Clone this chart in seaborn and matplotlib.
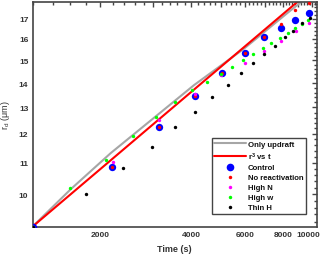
import matplotlib
matplotlib.use("Agg")
import matplotlib.pyplot as plt
import matplotlib.ticker as mticker
from matplotlib.lines import Line2D
from matplotlib.transforms import ScaledTranslation
import seaborn as sns
import numpy as np

# data (time in s, droplet radius in um)
updraft_t = [1200, 1600, 2170, 3170, 4080, 5940, 8460, 9190]
updraft_r = [9.06, 10.14, 11.32, 12.81, 13.91, 15.52, 17.43, 17.89]

r3_t = [1200, 9000]
r3_r = [9.06, 17.95]

control_t = [1200, 2190, 3130, 4100, 5050, 6010, 6950, 7890, 8800, 9760]
control_r = [9.06, 10.84, 12.27, 13.47, 14.43, 15.33, 16.08, 16.54, 16.96, 17.30]

noreact_t = [1200, 2190, 3130, 4100, 5050, 6010, 6950, 7890, 8800, 9760]
noreact_r = [9.06, 10.84, 12.27, 13.47, 14.43, 15.33, 16.08, 16.74, 17.46, 17.85]

highn_t = [1200, 2200, 3130, 4100, 5000, 6020, 6960, 7910, 8840, 9780]
highn_r = [9.06, 11.02, 12.52, 13.54, 14.34, 14.87, 15.41, 15.91, 16.37, 16.79]

highw_t = [1200, 1600, 2090, 2570, 3050, 3530, 4010, 4500, 4990, 5430,
           5930, 6400, 6860, 7330, 7800, 8320, 8760, 9240, 9710]
highw_r = [9.06, 10.17, 11.10, 11.91, 12.64, 13.23, 13.72, 14.05, 14.38, 14.70,
           15.00, 15.28, 15.55, 15.82, 16.06, 16.31, 16.54, 16.76, 16.96]

thinh_t = [1200, 1800, 2380, 2960, 3530, 4100, 4680, 5260, 5830, 6380,
           6960, 7530, 8100, 8670, 9240, 9810]
thinh_r = [9.06, 10.00, 10.81, 11.54, 12.24, 12.83, 13.41, 13.93, 14.42, 14.88,
           15.28, 15.67, 16.08, 16.40, 16.77, 17.04]

sns.set_style("white")
plt.rcParams['font.family'] = ['Liberation Sans', 'DejaVu Sans']
plt.rcParams['font.weight'] = 'bold'
plt.rcParams['mathtext.default'] = 'regular'

fig = plt.figure(figsize=(3.2, 2.55), dpi=100)
ax = fig.add_axes([0.1016, 0.1059, 0.889, 0.882])

sns.lineplot(x=updraft_t, y=updraft_r, ax=ax, color='#a6a6a6', lw=1.5,
             sort=False, estimator=None)
sns.lineplot(x=r3_t, y=r3_r, ax=ax, color='#ff0000', lw=1.5,
             sort=False, estimator=None)
sns.scatterplot(x=control_t, y=control_r, ax=ax, color='#0000ff', s=28,
                linewidth=0, zorder=3)
sns.scatterplot(x=noreact_t, y=noreact_r, ax=ax, color='#ff0000', s=6,
                linewidth=0, zorder=4)
sns.scatterplot(x=highn_t, y=highn_r, ax=ax, color='#ff00ff', s=6,
                linewidth=0, zorder=4)
sns.scatterplot(x=highw_t, y=highw_r, ax=ax, color='#00ff00', s=6,
                linewidth=0, zorder=4)
sns.scatterplot(x=thinh_t, y=thinh_r, ax=ax, color='#000000', s=6,
                linewidth=0, zorder=5)

ax.set_xscale('log')
ax.set_yscale('log')
ax.set_xlim(1200, 10360)
ax.set_ylim(9.05, 17.89)

# x ticks: long every 1000, labels on even thousands, short every 200
ax.xaxis.set_major_locator(mticker.FixedLocator(np.arange(2000, 10001, 1000)))
ax.xaxis.set_major_formatter(mticker.FuncFormatter(
    lambda v, p: f"{int(round(v))}" if int(round(v)) % 2000 == 0 else ""))
ax.xaxis.set_minor_locator(mticker.FixedLocator(
    [v for v in np.arange(1200, 10400, 200) if v % 1000 != 0]))
ax.xaxis.set_minor_formatter(mticker.NullFormatter())

ax.yaxis.set_major_locator(mticker.FixedLocator(np.arange(10, 18, 1)))
ax.yaxis.set_major_formatter(mticker.FuncFormatter(lambda v, p: f"{int(round(v))}"))
ax.yaxis.set_minor_locator(mticker.FixedLocator(
    [v for v in np.arange(9.2, 17.9, 0.2) if abs(v - round(v)) > 0.01]))
ax.yaxis.set_minor_formatter(mticker.NullFormatter())

ax.tick_params(which='both', direction='in', top=True, right=True,
               color='#444444', width=1.0, labelsize=6, labelcolor='#333333', pad=3)
ax.tick_params(which='major', length=3.5)
ax.tick_params(which='minor', length=2)
for sp in ax.spines.values():
    sp.set_color('#444444')
    sp.set_linewidth(1.2)

ax.set_xlabel('Time (s)', fontsize=6.5, color='#333333', fontweight='bold', labelpad=4)
ax.set_ylabel(r'r$_d$ ($\mu$m)', fontsize=6.5, color='#333333', labelpad=5)

handles = [
    Line2D([], [], color='#a6a6a6', lw=1.5),
    Line2D([], [], color='#ff0000', lw=1.5),
    Line2D([], [], ls='none', marker='o', color='#0000ff', markersize=5.5, mew=0),
    Line2D([], [], ls='none', marker='o', color='#ff0000', markersize=2.5, mew=0),
    Line2D([], [], ls='none', marker='o', color='#ff00ff', markersize=2.5, mew=0),
    Line2D([], [], ls='none', marker='o', color='#00ff00', markersize=2.5, mew=0),
    Line2D([], [], ls='none', marker='o', color='#000000', markersize=2.5, mew=0),
]
labels = ['Only updraft', r'r$^3$ vs t', 'Control', 'No reactivation',
          'High N', 'High w', 'Thin H']
leg = ax.legend(handles, labels, loc='lower right', bbox_to_anchor=(0.962, 0.058),
                fontsize=5.6, frameon=True, fancybox=False, framealpha=1,
                edgecolor='#444444', borderpad=0.35, labelspacing=0.32,
                handlelength=4.0, handletextpad=0.3, borderaxespad=0)
leg.get_frame().set_linewidth(1.0)
for t in leg.get_texts():
    t.set_fontweight('bold')
    t.set_color('#111111')

# nudge the last x label so it stays inside the figure
fig.canvas.draw()
last = ax.xaxis.get_major_ticks()[-1].label1
last.set_transform(last.get_transform() + ScaledTranslation(-3 / 72, 0, fig.dpi_scale_trans))

fig.savefig('out.png', dpi=100)
